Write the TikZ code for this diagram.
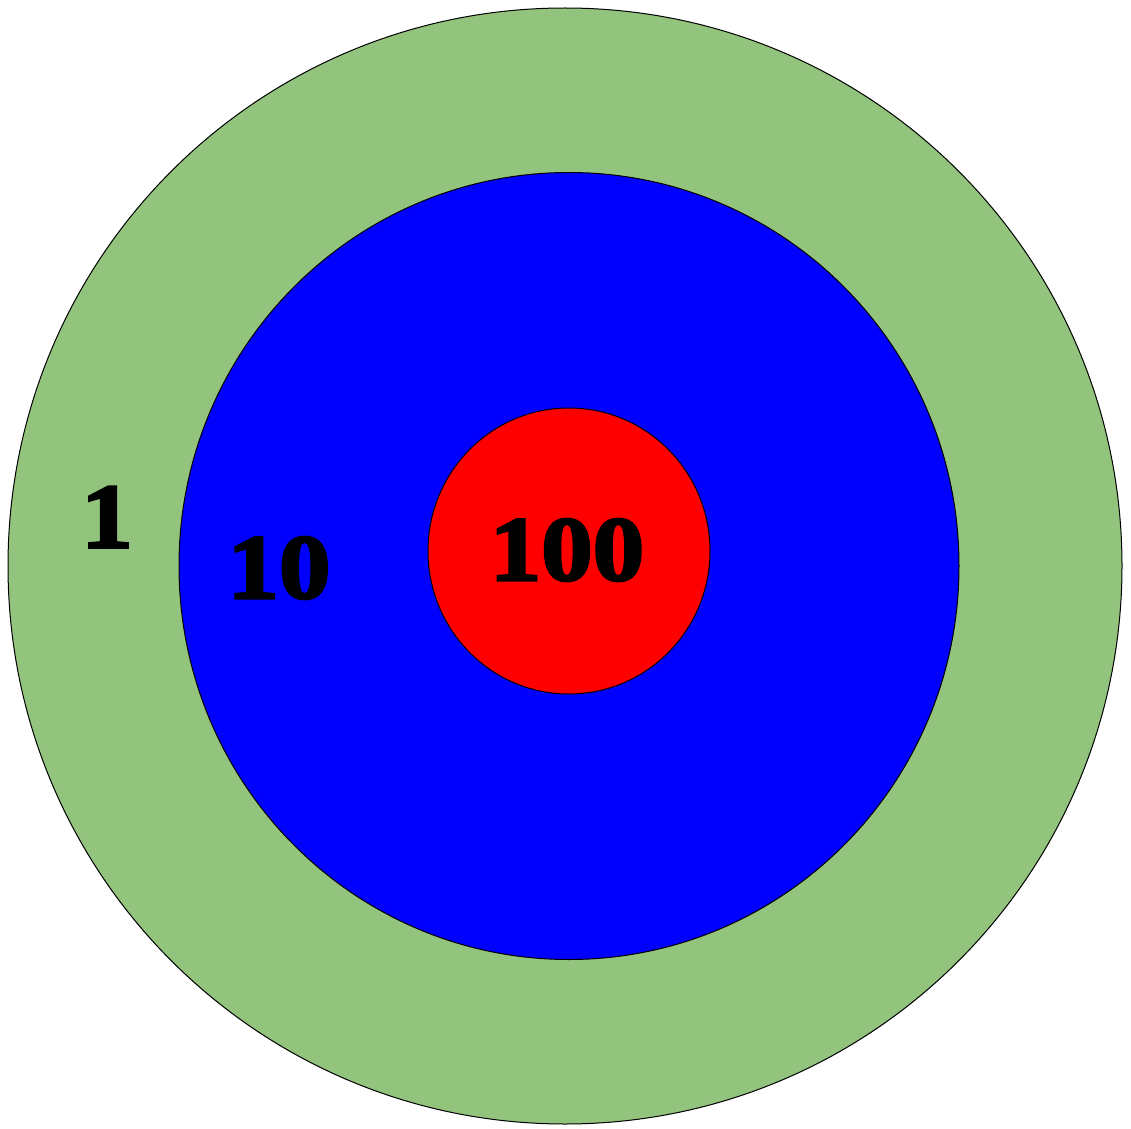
\documentclass[tikz,border=0pt]{standalone}
\usepackage{fontspec}
\newfontfamily\heavyserif[FakeBold=3, FakeStretch=1.12]{Liberation Serif Bold}
\usepackage{tikz}
\usetikzlibrary{shapes.geometric}
\definecolor{ringgreen}{RGB}{147,196,125}
\begin{document}
\begin{tikzpicture}[
    x=0.5pt, y=-0.5pt,
    ring/.style={ellipse, draw=black, line width=0.5pt, inner sep=0pt},
    score/.style={font=\fontsize{46}{46}\selectfont\heavyserif, inner sep=0pt}
]
    \useasboundingbox (0,0) rectangle (1131,1129);
    % rings from outside in
    \node (outer) [ring, fill=ringgreen, minimum width=557pt, minimum height=558pt] at (565,566) {};
    \node (middle) [ring, fill=blue, minimum width=390pt, minimum height=393.5pt] at (569,566) {};
    \node (inner) [ring, fill=red, minimum width=141pt, minimum height=143pt] at (569,551) {};

    % scores
    \node (one) [score] at (107,517) {1};
    \node (ten) [score] at (279,568) {10};
    \node (hundred) [score] at (567,550) {100};
\end{tikzpicture}
\end{document}
